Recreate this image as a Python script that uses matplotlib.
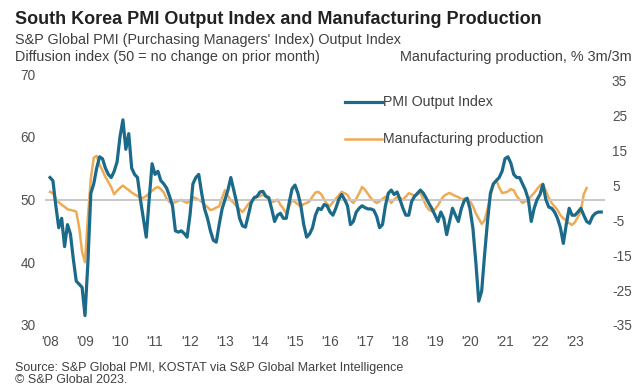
import numpy as np
import matplotlib
matplotlib.use('Agg')
import matplotlib.pyplot as plt

plt.rcParams['font.family'] = ['Liberation Sans', 'DejaVu Sans']
plt.rcParams['axes.unicode_minus'] = False

# monthly readings, Jan 2008 onwards
pmi_output = [
    53.5, 53.0, 49.0, 45.5, 47.0, 42.5, 46.0, 44.5, 40.5, 37.0, 36.5, 36.0,
    31.5, 40.0, 51.0, 52.5, 55.0, 56.8, 56.5, 55.0, 54.0, 53.5, 54.5, 56.0,
    60.0, 62.7, 58.0, 60.5, 55.0, 54.0, 53.5, 50.0, 47.0, 44.0, 50.0, 55.7,
    54.0, 54.5, 53.0, 52.5, 51.8, 50.5, 49.0, 45.0, 44.8, 45.0, 44.6, 44.0,
    47.5, 52.5, 53.5, 54.0, 51.0, 48.5, 47.0, 45.0, 43.5, 43.2, 46.0, 48.5,
    50.0, 51.5, 53.5, 51.5, 49.5, 47.0, 45.8, 45.6, 47.5, 49.5, 50.3, 50.5,
    51.2, 51.3, 50.5, 50.3, 48.5, 46.5, 47.5, 47.8, 47.0, 47.0, 49.5, 51.7,
    52.3, 51.0, 49.0, 46.0, 44.0, 44.5, 45.5, 47.5, 48.6, 48.4, 49.2, 49.0,
    48.0, 47.5, 48.6, 50.0, 50.8, 50.0, 49.0, 46.0, 46.5, 48.0, 48.6, 49.0,
    48.7, 48.5, 48.5, 48.3, 47.3, 45.5, 46.0, 49.0, 51.0, 51.5, 50.8, 51.2,
    50.0, 48.6, 47.5, 47.5, 49.7, 50.5, 51.0, 51.5, 51.0, 50.2, 49.3, 48.5,
    47.5, 46.5, 48.0, 47.0, 44.4, 46.5, 48.6, 47.5, 46.5, 48.5, 49.8, 50.2,
    48.5, 45.4, 40.0, 33.8, 35.4, 41.2, 46.5, 51.0, 52.5, 53.0, 53.5, 54.5,
    56.5, 56.8, 55.8, 54.0, 53.5, 53.5, 52.5, 51.5, 50.0, 46.5, 48.6, 50.0,
    50.8, 52.4, 50.0, 48.8, 48.6, 48.0, 47.0, 45.5, 43.0, 46.0, 48.6, 47.5,
    47.5, 48.0, 48.6, 47.5, 46.5, 46.2, 47.3, 47.8, 48.0, 48.0,
]

mfg_production = [
    3.2, 2.8, 1.2, 0.2, -0.5, -1.1, -1.8, -2.0, -2.2, -2.5, -7.0, -14.0,
    -17.0, -4.0, 7.0, 13.0, 13.5, 11.0, 9.3, 7.5, 6.0, 4.5, 2.5, 3.5,
    4.3, 5.0, 4.3, 3.7, 3.0, 2.5, 2.0, 1.4, 1.5, 2.0, 2.8, 3.5,
    4.2, 4.6, 4.0, 3.0, 1.2, 0.3, -0.1, 0.3, 0.6, 0.9, 0.4, 0.0,
    0.8, 1.7, 1.3, 0.9, 0.4, -0.5, -1.2, -2.0, -1.8, -1.3, -1.0, 1.5,
    3.7, 2.0, 0.8, 0.0, -1.0, -1.8, -2.6, -1.5, -0.3, 0.5, 1.2, 1.7,
    2.0, 2.3, 2.0, 1.0, 0.2, 0.5, 1.0, -0.5, -1.6, -3.0, -1.0, 0.9,
    0.3, -0.4, -1.0, -0.3, 0.0, 0.5, 1.8, 3.0, 3.2, 2.5, 1.0, -0.3,
    -0.9, 0.3, 1.2, 2.2, 3.2, 2.8, 2.3, 0.8, 0.0, 1.2, 2.8, 4.6,
    3.8, 2.6, 1.4, 0.6, 0.0, 0.5, 1.2, 1.8, 1.2, 0.0, 1.0, 1.7,
    1.4, 1.0, 1.8, 2.8, 2.5, 2.0, 2.5, 2.9, 1.0, -0.9, -2.0, -2.4,
    -1.8, -0.7, 0.8, 2.0, 2.5, 2.9, 2.4, 2.0, 1.7, 1.1, 1.2, 1.4,
    0.5, -0.9, -3.0, -4.5, -6.0, -5.0, -1.8, 2.0, 5.2, 6.6, 4.5, 2.9,
    3.0, 3.3, 4.0, 3.6, 2.0, 1.0, 0.0, 0.5, 1.0, 2.0, 2.9, 4.0,
    5.0, 5.5, 3.5, 1.5, 0.0, -1.0, -2.0, -3.5, -4.4, -4.9, -5.8, -6.3,
    -5.5, -4.0, -2.3, 2.5, 4.3,
]

years = list(range(2008, 2024))
year_labels = ["'%02d" % (y % 100) for y in years]
left_ticks = [30, 40, 50, 60, 70]
right_ticks = [35, 25, 15, 5, -5, -15, -25, -35]

t_pmi = 2008 + np.arange(len(pmi_output)) / 12.
t_mfg = 2008 + np.arange(len(mfg_production)) / 12.

blue = '#1b6a8a'
orange = '#eeaa55'
txt = '#404040'

W, H = 635, 385
fig = plt.figure(figsize=(W / 100., H / 100.), dpi=100)
ax = fig.add_axes([45. / W, 1 - 325. / H, 560. / W, 251. / H])
ax2 = ax.twinx()

ax.axhline(50, color='#c8c8c8', lw=1.4, zorder=1)
ax.plot(t_pmi, pmi_output, color=blue, lw=2.3, zorder=3, label='PMI Output Index')
ax2.plot(t_mfg, mfg_production, color=orange, lw=1.8, zorder=2,
         label='Manufacturing production')

ax.set_zorder(ax2.get_zorder() + 1)
ax.patch.set_visible(False)

ax.set_xlim(2008 - 5 / 35., 2008 + 555 / 35.)
ax.set_ylim(30, 70)
ax2.set_ylim(-35, 37)

ax.set_xticks(years)
ax.set_xticklabels(year_labels)
ax.set_yticks(left_ticks)
ax2.set_yticks(right_ticks)

for a in (ax, ax2):
    for s in a.spines.values():
        s.set_visible(False)
    a.tick_params(length=0, labelsize=9.8, labelcolor='#505050')
ax.tick_params(axis='x', pad=7)
ax.tick_params(axis='y', pad=7)
ax2.tick_params(axis='y', pad=5)

# legend entries drawn by hand as short lines with labels
fig.add_artist(plt.Line2D([345. / W, 382. / W], [1 - 102. / H] * 2, color=blue, lw=2.3))
fig.add_artist(plt.Line2D([345. / W, 382. / W], [1 - 139. / H] * 2, color=orange, lw=1.8))
fig.text(383. / W, 1 - 102. / H, 'PMI Output Index', fontsize=10.2, color=txt, va='center')
fig.text(383. / W, 1 - 139. / H, 'Manufacturing production', fontsize=10.2, color=txt, va='center')

fig.text(15. / W, 1 - 20. / H, 'South Korea PMI Output Index and Manufacturing Production',
         fontsize=13, fontweight='bold', color='#222222', va='center')
fig.text(15. / W, 1 - 40. / H, "S&P Global PMI (Purchasing Managers' Index) Output Index",
         fontsize=10.4, color=txt, va='center')
fig.text(15. / W, 1 - 57. / H, 'Diffusion index (50 = no change on prior month)',
         fontsize=10.4, color=txt, va='center')
fig.text(632. / W, 1 - 57. / H, 'Manufacturing production, % 3m/3m',
         fontsize=10.4, color=txt, va='center', ha='right')
fig.text(15. / W, 1 - 368. / H, 'Source: S&P Global PMI, KOSTAT via S&P Global Market Intelligence',
         fontsize=9, color=txt, va='center')
fig.text(15. / W, 1 - 380. / H, '\u00a9 S&P Global 2023.', fontsize=9, color=txt, va='center')

fig.savefig('out.png', dpi=100)
plt.close()
